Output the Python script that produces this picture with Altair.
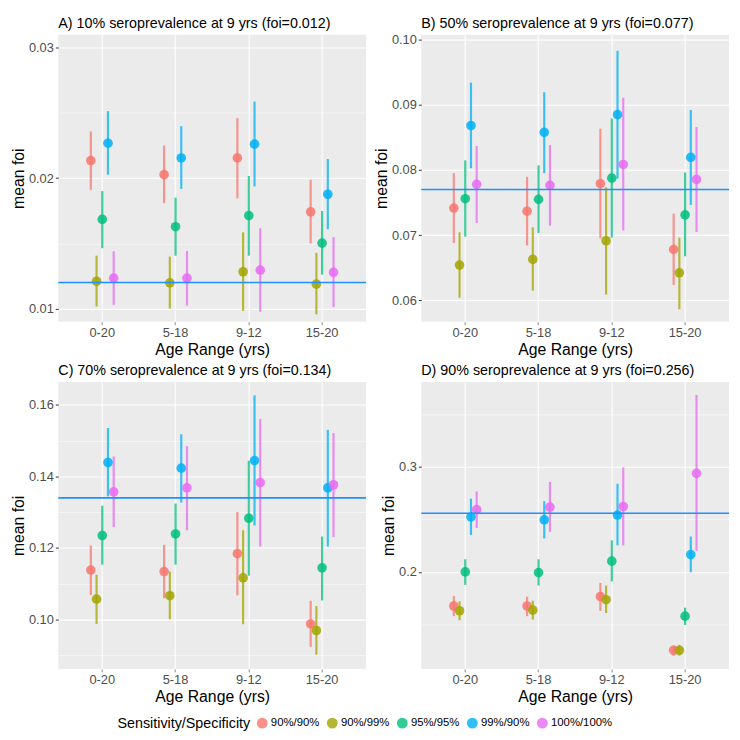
import altair as alt
import pandas as pd

ages = ["0-20", "5-18", "9-12", "15-20"]
groups = ["90%/90%", "90%/99%", "95%/95%", "99%/90%", "100%/100%"]
colors = ["#F8766D", "#A3A500", "#00BF7D", "#00B0F6", "#E76BF3"]

# rows = groups, columns = ages
A_mean = [[0.02135, 0.02027, 0.02155, 0.01742],
          [0.01210, 0.01198, 0.01283, 0.01188],
          [0.01684, 0.01628, 0.01713, 0.01502],
          [0.02268, 0.02155, 0.02261, 0.01877],
          [0.01234, 0.01234, 0.01295, 0.01278]]
A_lo = [[0.01911, 0.01809, 0.01845, 0.01500],
        [0.01017, 0.01000, 0.00983, 0.00957],
        [0.01464, 0.01406, 0.01406, 0.01261],
        [0.02027, 0.01918, 0.01937, 0.01609],
        [0.01029, 0.01024, 0.00976, 0.01012]]
A_hi = [[0.02358, 0.02250, 0.02461, 0.01988],
        [0.01406, 0.01399, 0.01585, 0.01428],
        [0.01901, 0.01850, 0.02017, 0.01749],
        [0.02514, 0.02399, 0.02587, 0.02147],
        [0.01440, 0.01442, 0.01616, 0.01548]]

B_mean = [[0.07416, 0.07368, 0.07790, 0.06780],
          [0.06540, 0.06627, 0.06914, 0.06421],
          [0.07560, 0.07550, 0.07876, 0.07311],
          [0.08684, 0.08579, 0.08852, 0.08196],
          [0.07780, 0.07766, 0.08086, 0.07856]]
B_lo = [[0.06880, 0.06842, 0.06952, 0.06234],
        [0.06038, 0.06148, 0.06086, 0.05861],
        [0.06976, 0.07033, 0.06962, 0.06675],
        [0.08029, 0.07952, 0.07871, 0.07464],
        [0.07187, 0.07144, 0.07072, 0.07048]]
B_hi = [[0.07952, 0.07895, 0.08636, 0.07330],
        [0.07043, 0.07120, 0.07737, 0.06962],
        [0.08148, 0.08072, 0.08794, 0.07962],
        [0.09344, 0.09196, 0.09833, 0.08923],
        [0.08368, 0.08383, 0.09110, 0.08660]]

C_mean = [[0.11383, 0.11340, 0.11839, 0.09876],
          [0.10569, 0.10665, 0.11164, 0.09693],
          [0.12347, 0.12391, 0.12829, 0.11444],
          [0.14388, 0.14230, 0.14441, 0.13678],
          [0.13565, 0.13678, 0.13827, 0.13766]]
C_lo = [[0.10682, 0.10595, 0.10674, 0.09237],
        [0.09877, 0.10008, 0.09868, 0.09018],
        [0.11532, 0.11532, 0.11226, 0.10533],
        [0.13442, 0.13267, 0.12627, 0.12040],
        [0.12583, 0.12496, 0.12040, 0.12303]]
C_hi = [[0.12067, 0.12084, 0.13004, 0.10525],
        [0.11252, 0.11340, 0.12496, 0.10376],
        [0.13179, 0.13240, 0.14432, 0.12321],
        [0.15352, 0.15177, 0.16263, 0.15299],
        [0.14555, 0.14844, 0.15606, 0.15212]]

D_mean = [[0.16747, 0.16747, 0.17650, 0.12530],
          [0.16295, 0.16355, 0.17349, 0.12530],
          [0.20000, 0.19940, 0.21024, 0.15783],
          [0.25241, 0.24970, 0.25422, 0.21657],
          [0.25934, 0.26175, 0.26235, 0.29398]]
D_lo = [[0.15783, 0.15783, 0.16295, 0.12018],
        [0.15392, 0.15452, 0.16084, 0.12018],
        [0.18765, 0.18705, 0.19096, 0.14940],
        [0.23524, 0.23193, 0.22530, 0.19970],
        [0.24187, 0.23825, 0.22530, 0.22018]]
D_hi = [[0.17711, 0.17650, 0.18946, 0.12982],
        [0.17199, 0.17259, 0.18705, 0.13042],
        [0.21205, 0.21205, 0.23012, 0.16596],
        [0.26988, 0.26747, 0.28404, 0.23373],
        [0.27681, 0.28584, 0.29970, 0.36867]]

titles = ["A) 10% seroprevalence at 9 yrs (foi=0.012)",
          "B) 50% seroprevalence at 9 yrs (foi=0.077)",
          "C) 70% seroprevalence at 9 yrs (foi=0.134)",
          "D) 90% seroprevalence at 9 yrs (foi=0.256)"]
true_foi = [0.012, 0.077, 0.134, 0.256]
y_domains = [[0.009, 0.031], [0.0567, 0.1008], [0.0862, 0.1664], [0.1075, 0.3812]]
y_major = [[0.01, 0.02, 0.03], [0.06, 0.07, 0.08, 0.09, 0.10],
           [0.10, 0.12, 0.14, 0.16], [0.2, 0.3]]
y_minor = [[0.015, 0.025], [0.065, 0.075, 0.085, 0.095],
           [0.09, 0.11, 0.13, 0.15], [0.15, 0.25, 0.35]]
y_fmt = [".2f", ".2f", ".2f", ".1f"]

W, H = 312, 291


def make_df(mean, lo, hi):
    rows = []
    for gi, g in enumerate(groups):
        for ai, a in enumerate(ages):
            rows.append({"age": a, "group": g, "mean": mean[gi][ai],
                         "lo": lo[gi][ai], "hi": hi[gi][ai]})
    return pd.DataFrame(rows)


def panel(i, mean, lo, hi):
    df = make_df(mean, lo, hi)
    majors = y_major[i]
    step = majors[1] - majors[0]
    is_major = f"abs(datum.value/{step} - round(datum.value/{step})) < 1e-6"
    vals = sorted(majors + y_minor[i])
    x_enc = alt.X("age:N", sort=ages, title="Age Range (yrs)",
                  scale=alt.Scale(paddingInner=0.61, paddingOuter=0.405),
                  axis=alt.Axis(labelAngle=0, bandPosition=0.5, grid=True,
                                gridColor="white", gridWidth=1.1))
    y_scale = alt.Scale(domain=y_domains[i], nice=False, zero=False)
    y_axis = alt.Axis(values=vals, format=y_fmt[i],
                      labelExpr=f"{is_major} ? datum.label : ''",
                      gridWidth={"condition": {"test": is_major, "value": 1.1}, "value": 0.5},
                      tickColor={"condition": {"test": is_major, "value": "#333333"},
                                 "value": "transparent"})
    xo = alt.XOffset("group:N", sort=groups, scale=alt.Scale(paddingInner=0, paddingOuter=0))
    color = alt.Color("group:N", sort=groups,
                      scale=alt.Scale(domain=groups, range=colors),
                      legend=alt.Legend(title="Sensitivity/Specificity", orient="none",
                                        legendX=60, legendY=692,
                                        direction="horizontal", titleOrient="left",
                                        symbolType="circle", symbolSize=90,
                                        symbolOpacity=0.8, labelOffset=3,
                                        columnPadding=5, titlePadding=6))
    base = alt.Chart(df)
    bars = base.mark_rule(strokeWidth=2.2, opacity=0.75).encode(
        x=x_enc, xOffset=xo,
        y=alt.Y("lo:Q", scale=y_scale, axis=y_axis, title="mean foi"),
        y2="hi:Q", color=color)
    pts = base.mark_circle(size=95, opacity=0.85).encode(
        x=x_enc, xOffset=xo,
        y=alt.Y("mean:Q", scale=y_scale, axis=y_axis, title="mean foi"),
        color=color)
    hl = alt.Chart(pd.DataFrame({"foi": [true_foi[i]]})).mark_rule(
        color="#1E90FF", strokeWidth=1.6).encode(y=alt.Y("foi:Q", scale=y_scale))
    return alt.layer(bars, pts, hl).properties(
        width=W, height=H,
        title=alt.TitleParams(titles[i], anchor="start", frame="group",
                              fontSize=14.5, fontWeight="normal", offset=3))


pA = panel(0, A_mean, A_lo, A_hi)
pB = panel(1, B_mean, B_lo, B_hi)
pC = panel(2, C_mean, C_lo, C_hi)
pD = panel(3, D_mean, D_lo, D_hi)

chart = alt.concat(
    pA, pB, pC, pD, columns=2, spacing={"row": 6, "column": 6}
).properties(padding=2).configure(font="Liberation Sans").configure_view(
    fill="#EBEBEB", stroke=None
).configure_axis(
    domain=False, tickSize=3, labelColor="#4D4D4D", labelFontSize=13,
    titleFontSize=16, titleFontWeight="normal", titleColor="black",
    gridColor="white", labelPadding=2, titlePadding=2
).configure_legend(
    labelFontSize=11.5, titleFontSize=14.5, titleFontWeight="normal",
    titleColor="black", labelColor="black"
).configure_title(color="black")

chart.save("out.html", embed_options={"renderer": "svg", "actions": False})
